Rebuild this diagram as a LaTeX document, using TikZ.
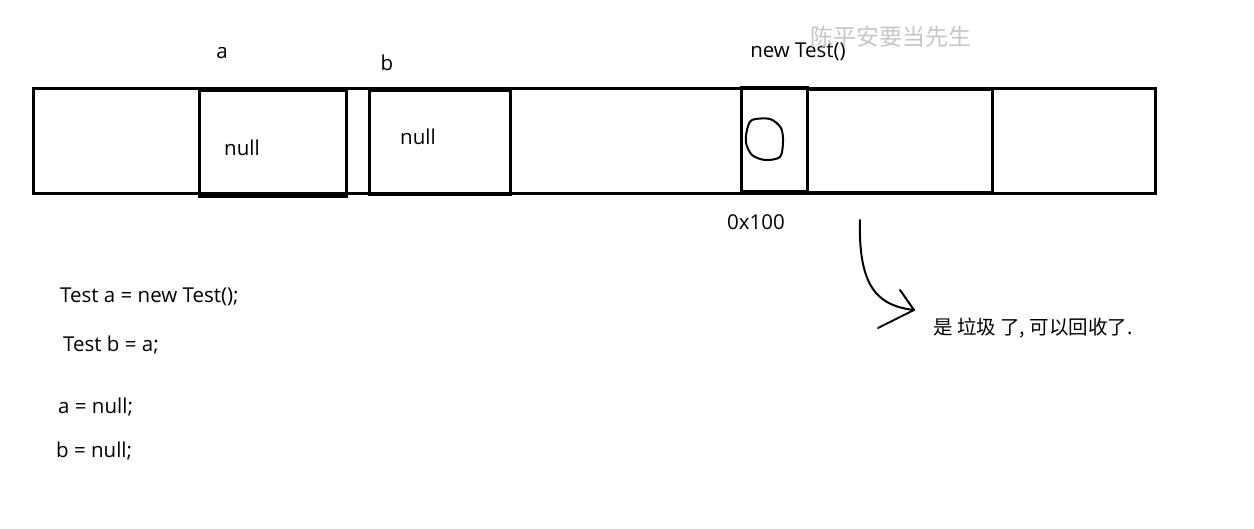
\documentclass[tikz,border=0pt]{standalone}
\usepackage{fontspec}
\setmainfont{Open Sans}
\newfontfamily\cjk{Noto Sans CJK SC}
\begin{document}
\begin{tikzpicture}[x=1pt,y=-1pt,
  cell/.style={draw=black,line width=3pt,inner sep=0pt,fill=none},
  lbl/.style={inner sep=0pt,font=\fontsize{20.5}{23}\selectfont},
  code/.style={inner sep=0pt,anchor=west,font=\fontsize{20.5}{23}\selectfont},
  ink/.style={draw=black,line width=2pt,line cap=round,line join=round}]
\useasboundingbox[fill=white] (0,0) rectangle (1254,529);
% memory strip
\node[cell,minimum width=1122pt,minimum height=105pt] (mem) at (594,141.5) {};
\node[cell,minimum width=147pt,minimum height=106pt] (boxa) at (272.5,144) {};
\node[cell,minimum width=141pt,minimum height=104pt] (boxb) at (439.5,143) {};
\node[cell,minimum width=66pt,minimum height=104pt] (obj) at (774,140) {};
\node[cell,minimum width=185pt,minimum height=103pt] (rest) at (899.5,141.5) {};
% labels
\node[lbl] (la) at (222,53) {a};
\node[lbl] (lb) at (387,63) {b};
\node[lbl] (na) at (242,148) {null};
\node[lbl] (nb) at (418,137) {null};
\node[lbl] (nt) at (798,52) {new Test()};
\node[inner sep=0pt,text=black!22,font=\cjk\fontsize{23}{25}\selectfont] (wm) at (891,37) {陈平安要当先生};
\node[lbl] (addr) at (756,222) {0x100};
% hand-drawn circle in object cell
\draw[ink] plot[smooth cycle] coordinates {(752,120) (770,119) (781,128) (783,142) (780,157) (765,160) (752,155) (746,143) (747,130)};
% code
\node[code] (c1) at (60,297) {Test a = new Test();};
\node[code] (c2) at (63,345) {Test b = a;};
\node[code] (c3) at (58,407) {a = null;};
\node[code] (c4) at (56,451) {b = null;};
% garbage note
\node[inner sep=0pt,anchor=west,font=\cjk\fontsize{19.5}{22}\selectfont] (gc) at (933,328) {是 垃圾 了, 可以回收了.};
\coordinate (s) at (860,220);
\coordinate (tip) at (914,310);
\draw[ink] (s) .. controls (858,290) and (880,306) .. (tip);
\draw[ink] (900,290) -- (tip) -- (878,328);
\end{tikzpicture}
\end{document}
